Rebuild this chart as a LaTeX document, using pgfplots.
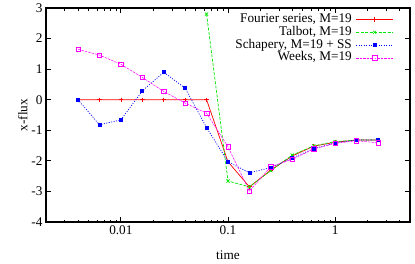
\documentclass[border=0pt]{standalone}
\usepackage{pgfplots}
\pgfplotsset{compat=1.18}
\usepackage{fontspec}
\setmainfont{Liberation Serif}
\definecolor{gred}{RGB}{255,0,0}
\definecolor{ggreen}{RGB}{0,230,0}
\definecolor{gblue}{RGB}{0,0,255}
\definecolor{gmag}{RGB}{255,0,255}
\begin{document}
\begin{tikzpicture}
\begin{axis}[
  scale only axis, width=364bp, height=214bp,
  xmode=log, xmin=0.002, xmax=5, ymin=-4, ymax=3,
  ytick={-4,-3,-2,-1,0,1,2,3},
  yticklabels={-4,-3,-2,-1,0,1,2,3},
  xtick={0.01,0.1,1}, xticklabels={0.01,0.1,1},
  minor xtick={0.002,0.003,0.004,0.005,0.006,0.007,0.008,0.009,0.02,0.03,0.04,0.05,0.06,0.07,0.08,0.09,0.2,0.3,0.4,0.5,0.6,0.7,0.8,0.9,2,3,4,5},
  tick align=inside, major tick length=5bp, minor tick length=2.5bp,
  tick style={black, line width=0.8bp},
  axis line style={line width=1.2bp},
  xlabel={time}, ylabel={x-flux},
  xlabel style={yshift=-9bp},
  ylabel style={yshift=-3bp},
  tick label style={font=\fontsize{13.3}{16}\selectfont},
  label style={font=\fontsize{13.3}{16}\selectfont},
  /pgf/number format/assume math mode=true,
  legend style={at={(0.955,0.975)}, anchor=north east, draw=none, fill=none,
    font=\fontsize{13.3}{16}\selectfont, row sep=0.5bp, column sep=0pt,
    inner sep=0pt, nodes={inner xsep=4bp, inner ysep=0pt, text height=9.2bp, text depth=3bp}},
  legend cell align=right,
  legend plot pos=right,
  legend image code/.code={\draw[mark repeat=2,mark phase=2,#1] plot coordinates {(0cm,0cm) (0.65cm,0cm) (1.3cm,0cm)};},
]
\addplot[color=gred, line width=0.7bp, mark=+, mark size=2.2bp, mark options={solid}] coordinates {
(0.00398,0) (0.00631,0) (0.01,0) (0.01585,0) (0.02512,0) (0.03981,0) (0.0631,0)
(0.1,-2.03) (0.1585,-2.85) (0.2512,-2.30) (0.3981,-1.84) (0.631,-1.52) (1,-1.39) (1.585,-1.32) (2.512,-1.32)};
\addlegendentry{Fourier series, M=19}
\addplot[color=ggreen, line width=0.7bp, dash pattern=on 3bp off 1.5bp, mark=x, mark size=2.2bp, mark options={solid}] coordinates {
(0.0631,2.80) (0.1,-2.66) (0.1585,-2.85) (0.2512,-2.32) (0.3981,-1.81) (0.631,-1.51) (1,-1.37) (1.585,-1.32) (2.512,-1.32)};
\addlegendentry{Talbot, M=19}
\addplot[color=gblue, line width=0.7bp, dash pattern=on 1bp off 1.5bp, mark=square*, mark size=1.5bp, mark options={solid}] coordinates {
(0.00398,0) (0.00631,-0.82) (0.01,-0.66) (0.01585,0.29) (0.02512,0.90) (0.03981,0.38) (0.0631,-0.91)
(0.1,-2.03) (0.1585,-2.39) (0.2512,-2.22) (0.3981,-1.90) (0.631,-1.60) (1,-1.41) (1.585,-1.32) (2.512,-1.32)};
\addlegendentry{Schapery, M=19 + SS}
\addplot[color=gmag, line width=0.5bp, dash pattern=on 2.5bp off 1bp, mark=square, mark size=2.2bp, mark options={solid}] coordinates {
(0.00398,1.65) (0.00631,1.46) (0.01,1.16) (0.01585,0.73) (0.02512,0.27) (0.03981,-0.11) (0.0631,-0.44)
(0.1,-1.54) (0.1585,-2.99) (0.2512,-2.19) (0.3981,-1.95) (0.631,-1.61) (1,-1.43) (1.585,-1.34) (2.512,-1.41)};
\addlegendentry{Weeks, M=19}
\end{axis}
\pgfresetboundingbox
\path (current axis.south west) ++(-46bp,-41bp) coordinate (bbA);
\path (current axis.north east) ++(5bp,8bp) coordinate (bbB);
\useasboundingbox (bbA) rectangle (bbB);
\end{tikzpicture}
\end{document}
